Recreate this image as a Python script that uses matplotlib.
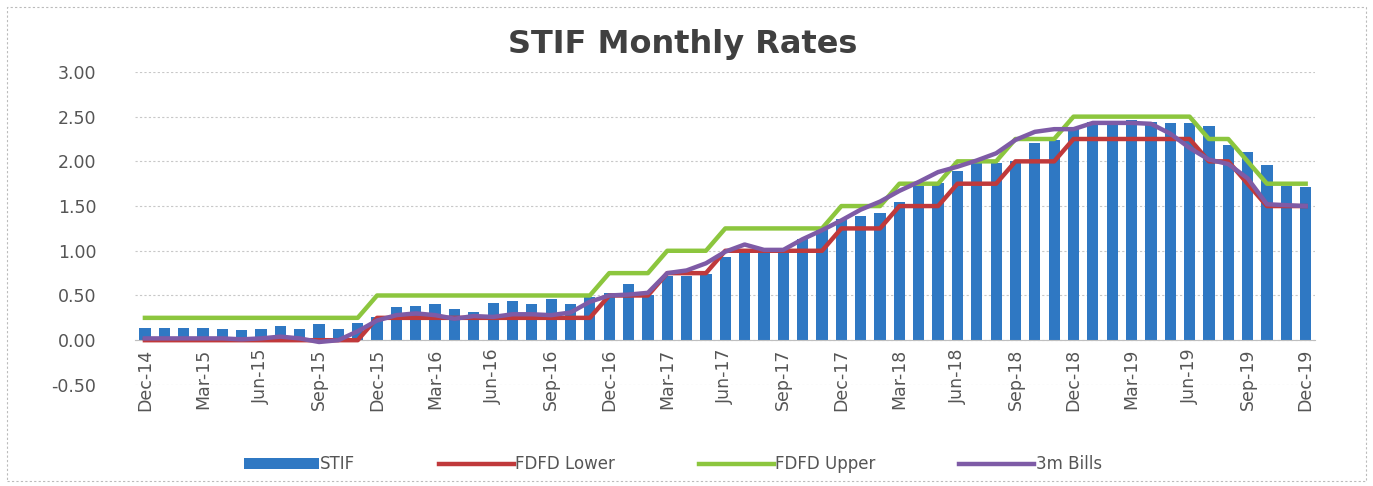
import matplotlib.pyplot as plt
from matplotlib.patches import Rectangle
import numpy as np

# monthly data Dec-14 .. Dec-19
months = ['Dec-14', 'Jan-15', 'Feb-15', 'Mar-15', 'Apr-15', 'May-15', 'Jun-15', 'Jul-15', 'Aug-15', 'Sep-15', 'Oct-15', 'Nov-15',
          'Dec-15', 'Jan-16', 'Feb-16', 'Mar-16', 'Apr-16', 'May-16', 'Jun-16', 'Jul-16', 'Aug-16', 'Sep-16', 'Oct-16', 'Nov-16',
          'Dec-16', 'Jan-17', 'Feb-17', 'Mar-17', 'Apr-17', 'May-17', 'Jun-17', 'Jul-17', 'Aug-17', 'Sep-17', 'Oct-17', 'Nov-17',
          'Dec-17', 'Jan-18', 'Feb-18', 'Mar-18', 'Apr-18', 'May-18', 'Jun-18', 'Jul-18', 'Aug-18', 'Sep-18', 'Oct-18', 'Nov-18',
          'Dec-18', 'Jan-19', 'Feb-19', 'Mar-19', 'Apr-19', 'May-19', 'Jun-19', 'Jul-19', 'Aug-19', 'Sep-19', 'Oct-19', 'Nov-19',
          'Dec-19']

stif = [0.14, 0.14, 0.14, 0.14, 0.13, 0.11, 0.13, 0.16, 0.13, 0.18, 0.13, 0.19,
        0.26, 0.37, 0.38, 0.40, 0.35, 0.32, 0.42, 0.44, 0.40, 0.46, 0.40, 0.48,
        0.53, 0.63, 0.50, 0.72, 0.72, 0.74, 0.93, 0.97, 1.00, 0.97, 1.13, 1.25,
        1.35, 1.39, 1.42, 1.55, 1.72, 1.76, 1.89, 1.99, 1.98, 2.00, 2.20, 2.24,
        2.37, 2.44, 2.44, 2.46, 2.44, 2.43, 2.43, 2.39, 2.18, 2.11, 1.96, 1.72,
        1.71]

fdfd_lower = [0.00] * 12 + [0.25] * 12 + [0.50] * 3 + [0.75] * 3 + [1.00] * 6 + \
             [1.25] * 3 + [1.50] * 3 + [1.75] * 3 + [2.00] * 3 + [2.25] * 7 + \
             [2.00] * 2 + [1.75] + [1.50] * 3

fdfd_upper = [0.25] * 12 + [0.50] * 12 + [0.75] * 3 + [1.00] * 3 + [1.25] * 6 + \
             [1.50] * 3 + [1.75] * 3 + [2.00] * 3 + [2.25] * 3 + [2.50] * 7 + \
             [2.25] * 2 + [2.00] + [1.75] * 3

bills_3m = [0.02, 0.02, 0.02, 0.02, 0.02, 0.01, 0.02, 0.04, 0.02, -0.02, 0.00, 0.10,
            0.22, 0.28, 0.30, 0.28, 0.24, 0.27, 0.26, 0.29, 0.29, 0.28, 0.31, 0.43,
            0.50, 0.51, 0.53, 0.75, 0.78, 0.86, 0.99, 1.07, 1.01, 1.01, 1.13, 1.23,
            1.34, 1.46, 1.55, 1.67, 1.77, 1.88, 1.94, 2.01, 2.09, 2.24, 2.33, 2.36,
            2.36, 2.43, 2.43, 2.43, 2.42, 2.31, 2.15, 2.02, 1.97, 1.81, 1.52, 1.51,
            1.50]

x = np.arange(len(months))

fig = plt.figure(figsize=(13.73, 4.86), dpi=100)
ax = fig.add_axes([0.0985, 0.208, 0.8595, 0.644])

b1 = ax.bar(x, stif, width=0.58, color='#2F78C3', label='STIF', zorder=2)
l1, = ax.plot(x, fdfd_lower, color='#C0393B', lw=3.2, label='FDFD Lower', zorder=3)
l2, = ax.plot(x, fdfd_upper, color='#8CC63E', lw=3.2, label='FDFD Upper', zorder=3)
l3, = ax.plot(x, bills_3m, color='#7E5BA6', lw=3.2, label='3m Bills', zorder=4)

ax.set_xlim(-0.5, len(months) - 0.5)
ax.set_ylim(-0.5, 3.0)
yt = np.arange(-0.5, 3.01, 0.5)
ax.set_yticks(yt)
ax.set_yticklabels(['%.2f' % v for v in yt])
ax.yaxis.grid(True, color='#C8C8C8', ls=(0, (2, 2)), lw=0.8)
ax.set_axisbelow(True)

ax.set_xticks(x[::3])
ax.set_xticklabels(months[::3])
ax.tick_params(axis='both', length=0, labelcolor='#555555')
ax.tick_params(axis='x', pad=6, labelrotation=90, labelsize=12.5)
ax.tick_params(axis='y', pad=28, labelsize=12.5)

for s in ['top', 'right', 'left']:
    ax.spines[s].set_visible(False)
ax.spines['bottom'].set_position(('data', 0))
ax.spines['bottom'].set_color('#BFBFBF')

fig.suptitle('STIF Monthly Rates', x=0.497, y=0.94, fontsize=23,
             fontweight='bold', color='#404040')

fig.legend([b1, l1, l2, l3], ['STIF', 'FDFD Lower', 'FDFD Upper', '3m Bills'],
           loc='lower center', ncol=4, bbox_to_anchor=(0.49, -0.005),
           frameon=False, fontsize=12, labelcolor='#555555',
           handlelength=4.5, columnspacing=5.0, handletextpad=0.1)

fig.patches.append(Rectangle((0.005, 0.01), 0.99, 0.975, transform=fig.transFigure,
                             fill=False, edgecolor='#BBBBBB', ls=(0, (2, 2)), lw=0.8))

fig.savefig('out.png', dpi=100)
